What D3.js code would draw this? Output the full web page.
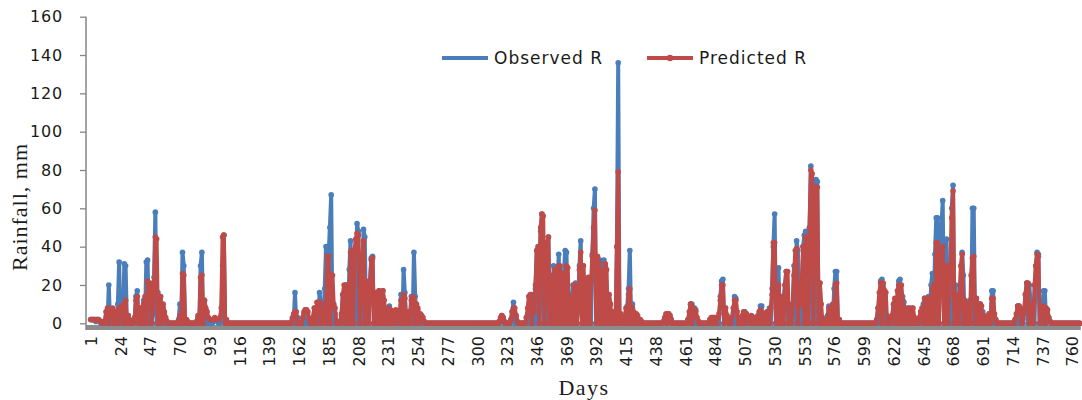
<!DOCTYPE html>
<html>
<head>
<meta charset="utf-8">
<script src="https://cdn.jsdelivr.net/npm/d3@7"></script>
<style>
  body { margin: 0; background: #fff; }
  svg { display: block; }
</style>
</head>
<body>
<svg id="chart"></svg>
<script>
// Daily rainfall, stored as runs: [first day, [values for consecutive days]]
// Days not listed are zero.
const totalDays = 766;

const observedRuns = [
    [1, [2, 2, 2, 2, 1, 2, 2, 1, 0]],
    [10, [0, 0, 1, 6, 0, 20, 0, 4, 7, 0]],
    [20, [3, 0, 10, 32, 0, 9, 0, 31, 30, 0]],
    [30, [4, 0, 0, 0, 0, 2, 14, 17, 0, 8]],
    [40, [0, 5, 12, 0, 32, 33, 0, 18, 0, 5]],
    [50, [24, 58, 0, 16, 0, 14, 0, 8, 0, 2]],
    [69, [2]],
    [70, [10, 0, 37, 30, 0, 2]],
    [84, [3, 0, 30, 37, 0, 12]],
    [90, [7, 0, 1, 0, 0, 0, 1, 2, 2, 1]],
    [102, [2, 30, 46, 0]],
    [157, [3, 0, 16]],
    [160, [0, 3, 0, 0, 0, 0, 5, 7, 0, 3]],
    [173, [3, 8, 0, 6, 0, 16, 10]],
    [180, [0, 2, 18, 40, 0, 36, 50, 67, 0, 10]],
    [190, [5, 0, 0, 0, 0, 4, 15, 0, 20, 18]],
    [200, [0, 28, 43, 0, 22, 36, 0, 52, 48, 0]],
    [210, [18, 0, 49, 45, 0, 15, 0, 22, 34, 35]],
    [220, [0, 14, 0, 14, 17, 0, 12, 17, 0, 8]],
    [230, [0, 6, 9, 0, 4, 0, 5, 6, 0, 3]],
    [240, [0, 15, 0, 28, 16, 0, 6, 0, 5, 14]],
    [250, [0, 37, 14, 0, 7, 0, 3, 0, 1]],
    [318, [2, 4]],
    [320, [3, 0, 0, 0, 0, 0, 2, 6, 11, 0]],
    [330, [4, 0, 0, 0, 0, 0, 0, 0, 3, 0]],
    [340, [14, 0, 15, 8, 0, 18, 38, 0, 32, 48]],
    [350, [57, 0, 28, 0, 40, 45, 0, 22, 0, 30]],
    [360, [0, 10, 20, 36, 0, 12, 0, 26, 38, 37]],
    [370, [0, 12, 0, 14, 20, 0, 21, 0, 8, 30]],
    [380, [43, 0, 30, 0, 10, 22, 0, 15, 0, 36]],
    [390, [60, 70, 0, 32, 0, 33, 28, 0, 33, 30]],
    [400, [0, 15, 0, 4, 0, 1, 3, 0, 40, 136]],
    [410, [0, 4, 1, 0, 3, 0, 9, 18, 38, 0]],
    [420, [10, 0, 5, 0, 3, 0, 1]],
    [445, [2, 4, 0, 5, 4, 2]],
    [463, [2, 0, 10, 10, 0, 8, 7, 0, 1]],
    [480, [2, 0, 3, 3, 0, 2, 3, 0, 14, 22]],
    [490, [23, 0, 8, 4, 0, 0, 0, 3, 0, 14]],
    [500, [13, 0, 3, 0, 0, 3, 0, 6, 5, 0]],
    [510, [2, 3, 0, 3, 3, 0, 3, 4, 0, 9]],
    [520, [9, 0, 3, 5, 0, 6, 8, 0, 18, 40]],
    [530, [57, 0, 12, 29, 0, 10, 0, 14, 20, 27]],
    [540, [0, 10, 0, 3, 10, 30, 0, 43, 38, 0]],
    [550, [10, 0, 40, 46, 48, 0, 8, 50, 82, 0]],
    [560, [62, 0, 75, 74, 0, 21, 0, 3, 0, 0]],
    [570, [0, 4, 9, 0, 8, 0, 18, 27, 27, 0]],
    [580, [2]],
    [609, [2]],
    [610, [8, 0, 22, 23, 0, 17, 0, 4, 2, 0]],
    [620, [0, 4, 10, 0, 12, 0, 22, 23, 0, 14]],
    [630, [11, 0, 5, 8, 0, 6, 8, 0, 3, 0]],
    [640, [0, 0, 2, 6, 0, 10, 13, 0, 10, 14]],
    [650, [0, 20, 26, 0, 36, 55, 55, 0, 30, 50]],
    [660, [64, 0, 38, 44, 0, 15, 0, 60, 72, 0]],
    [670, [20, 0, 10, 14, 0, 37, 25, 0, 8, 0]],
    [680, [10, 12, 0, 60, 60, 0, 13, 0, 9, 10]],
    [690, [0, 6, 0, 3, 2, 0, 5, 0, 17, 17]],
    [700, [0, 2]],
    [716, [2, 0, 9, 9]],
    [720, [0, 3, 0, 6, 15, 21, 0, 20, 10, 0]],
    [730, [8, 0, 30, 37, 36, 0, 8, 0, 17, 17]],
    [740, [0, 7, 3, 1]]
];

const predictedRuns = [
    [1, [2, 2, 2, 2, 2, 2, 2, 1, 1]],
    [10, [0, 0, 1, 6, 8, 0, 6, 4, 8, 0]],
    [20, [5, 6, 0, 8, 6, 9, 0, 10, 12, 0]],
    [30, [4, 2, 0, 0, 0, 3, 12, 14, 0, 8]],
    [40, [4, 0, 10, 14, 0, 22, 20, 21, 0, 8]],
    [50, [18, 45, 44, 0, 12, 14, 0, 10, 6, 3]],
    [60, [1, 0, 0, 0, 0, 0, 0, 0, 0, 1]],
    [70, [4, 0, 26, 25, 0, 2, 1]],
    [83, [1, 4, 0, 24, 25, 0, 12]],
    [90, [8, 6, 3, 2, 2, 2, 2, 3, 2, 2]],
    [100, [2, 3, 8, 45, 46, 0, 2]],
    [157, [2, 5, 6]],
    [160, [6, 0, 0, 0, 0, 3, 6, 7, 7, 6]],
    [170, [2, 0, 0, 3, 8, 0, 11, 8, 11, 0]],
    [180, [3, 2, 10, 0, 35, 35, 0, 25, 25, 9]],
    [190, [8, 0, 1, 0, 0, 5, 15, 20, 0, 20]],
    [200, [15, 0, 37, 38, 0, 38, 44, 47, 46, 0]],
    [210, [20, 34, 43, 0, 22, 14, 0, 20, 33, 34]],
    [220, [0, 16, 10, 0, 17, 16, 0, 17, 12, 0]],
    [230, [6, 8, 0, 7, 5, 0, 6, 7, 0, 4]],
    [240, [5, 12, 0, 15, 13, 0, 6, 5, 0, 12]],
    [250, [14, 13, 0, 10, 8, 0, 5, 4, 3, 1]],
    [317, [1, 3, 4]],
    [320, [3, 1, 0, 0, 0, 0, 2, 6, 8, 8]],
    [330, [4, 1, 0, 0, 0, 0, 0, 0, 3, 8]],
    [340, [14, 15, 0, 10, 6, 20, 38, 40, 0, 50]],
    [350, [57, 56, 0, 22, 42, 45, 0, 25, 14, 0]],
    [360, [28, 12, 0, 30, 30, 0, 8, 26, 0, 30]],
    [370, [29, 0, 6, 14, 0, 20, 18, 0, 8, 28]],
    [380, [37, 0, 30, 18, 0, 22, 24, 0, 22, 35]],
    [390, [50, 59, 0, 35, 32, 0, 28, 26, 0, 31]],
    [400, [28, 0, 15, 10, 0, 6, 4, 0, 40, 79]],
    [410, [0, 5, 2, 0, 3, 8, 0, 15, 18, 0]],
    [420, [8, 6, 0, 5, 4, 0, 2, 1]],
    [444, [1, 3, 5, 0, 5, 4, 2]],
    [463, [2, 6, 10, 0, 8, 7, 6, 3, 1]],
    [480, [2, 3, 0, 3, 3, 0, 3, 5, 12, 20]],
    [490, [20, 0, 8, 4, 2, 0, 0, 3, 8, 12]],
    [500, [12, 6, 0, 0, 0, 4, 6, 0, 5, 3]],
    [510, [3, 0, 4, 3, 0, 3, 3, 0, 6, 7]],
    [520, [0, 5, 3, 0, 6, 6, 0, 8, 15, 42]],
    [530, [42, 0, 12, 20, 0, 14, 10, 0, 20, 27]],
    [540, [27, 0, 5, 0, 10, 25, 38, 39, 0, 18]],
    [550, [10, 22, 40, 0, 45, 20, 0, 50, 80, 78]],
    [560, [0, 66, 71, 71, 0, 21, 10, 0, 1, 0]],
    [570, [0, 3, 8, 0, 8, 10, 0, 20, 21, 0]],
    [580, [2]],
    [609, [2]],
    [610, [8, 16, 21, 0, 21, 17, 16, 0, 3, 0]],
    [620, [0, 4, 10, 13, 0, 17, 20, 0, 20, 12]],
    [630, [0, 8, 6, 0, 8, 7, 0, 8, 3, 0]],
    [640, [0, 0, 3, 6, 8, 0, 13, 12, 0, 13]],
    [650, [13, 0, 18, 20, 0, 42, 42, 0, 25, 35]],
    [660, [40, 0, 28, 30, 0, 15, 30, 55, 69, 0]],
    [670, [15, 12, 0, 14, 30, 36, 0, 12, 8, 0]],
    [680, [10, 0, 25, 34, 35, 0, 13, 10, 0, 10]],
    [690, [9, 0, 4, 3, 0, 3, 5, 0, 13, 13]],
    [700, [5, 2]],
    [716, [2, 5, 9, 9]],
    [720, [8, 0, 2, 6, 15, 21, 21, 0, 10, 6]],
    [730, [0, 20, 30, 36, 35, 0, 8, 8, 9, 0]],
    [740, [8, 7, 3, 1]]
];

const yTicks = [0, 20, 40, 60, 80, 100, 120, 140, 160];
const xTickDays = [1, 24, 47, 70, 93, 116, 139, 162, 185, 208, 231, 254, 277, 300, 323, 346, 369, 392,
    415, 438, 461, 484, 507, 530, 553, 576, 599, 622, 645, 668, 691, 714, 737, 760];

const seriesNames = ["Observed R", "Predicted R"];
const colors = { "Observed R": "#4a7ebb", "Predicted R": "#be4b48" };

// expand runs into a full daily series
function toSeries(runs) {
    const values = new Array(totalDays).fill(0);
    runs.forEach(([start, vals]) => vals.forEach((v, i) => { values[start - 1 + i] = v; }));
    return values.map((v, i) => ({ day: i + 1, value: v }));
}

const series = [
    { name: "Observed R", values: toSeries(observedRuns) },
    { name: "Predicted R", values: toSeries(predictedRuns) }
];

const W = 1082, H = 400;
const svg = d3.select("#chart").attr("width", W).attr("height", H);
svg.append("rect").attr("width", W).attr("height", H).attr("fill", "#fff");

const plotLeft = 86;
const x = d3.scaleLinear().domain([1, 760]).range([90.7, 1072]);
const y = d3.scaleLinear().domain([0, 160]).range([323.3, 16.7]);

// grey floor band under the zero line
svg.append("rect")
    .attr("x", plotLeft)
    .attr("y", 325)
    .attr("width", x(totalDays) - plotLeft + 1)
    .attr("height", 5)
    .attr("fill", "#8c8c8c");

// y axis
const yAxis = svg.append("g")
    .attr("transform", `translate(${plotLeft},0)`)
    .call(d3.axisLeft(y).tickValues(yTicks).tickSize(6).tickSizeOuter(0).tickPadding(17));
yAxis.select(".domain").remove();
yAxis.selectAll(".tick line").attr("stroke", "#868686").attr("stroke-width", 1.3);
yAxis.selectAll(".tick text")
    .attr("font-family", "DejaVu Sans, sans-serif")
    .attr("font-size", 16)
    .attr("letter-spacing", 0.8)
    .attr("fill", "#1a1a1a");
svg.append("line")
    .attr("x1", plotLeft).attr("x2", plotLeft)
    .attr("y1", y(160)).attr("y2", 330)
    .attr("stroke", "#868686").attr("stroke-width", 1.5);

// x tick labels, rotated
const xAxis = svg.append("g")
    .attr("transform", "translate(0,336)")
    .call(d3.axisBottom(x).tickValues(xTickDays).tickFormat(d3.format("d")).tickSize(0));
xAxis.select(".domain").remove();
xAxis.selectAll(".tick text")
    .attr("font-family", "DejaVu Sans, sans-serif")
    .attr("font-size", 16)
    .attr("fill", "#1a1a1a")
    .attr("text-anchor", "end")
    .attr("transform", "rotate(-90)")
    .attr("x", 0)
    .attr("y", 0)
    .attr("dy", "0.36em");

// lines and markers
const line = d3.line().x(d => x(d.day)).y(d => y(d.value));

series.forEach(s => {
    const g = svg.append("g");
    g.append("path")
        .datum(s.values)
        .attr("d", line)
        .attr("fill", "none")
        .attr("stroke", colors[s.name])
        .attr("stroke-width", 4)
        .attr("stroke-linejoin", "round");
    g.selectAll("circle")
        .data(s.values)
        .join("circle")
        .attr("cx", d => x(d.day))
        .attr("cy", d => y(d.value))
        .attr("r", 2.8)
        .attr("fill", colors[s.name]);
});

// legend
const legendPos = { "Observed R": 442, "Predicted R": 647 };
seriesNames.forEach(name => {
    const lx = legendPos[name];
    const lg = svg.append("g");
    lg.append("line")
        .attr("x1", lx).attr("x2", lx + 46)
        .attr("y1", 58).attr("y2", 58)
        .attr("stroke", colors[name]).attr("stroke-width", 4);
    if (name === "Predicted R") {
        lg.append("circle").attr("cx", lx + 23).attr("cy", 58).attr("r", 3.2).attr("fill", colors[name]);
    }
    lg.append("text")
        .attr("x", lx + 52)
        .attr("y", 64)
        .attr("font-family", "DejaVu Sans, sans-serif")
        .attr("font-size", 17)
        .attr("letter-spacing", 1)
        .attr("fill", "#1a1a1a")
        .text(name);
});

// axis titles
svg.append("text")
    .attr("transform", "translate(27,207) rotate(-90)")
    .attr("text-anchor", "middle")
    .attr("font-family", "Liberation Serif, serif")
    .attr("font-size", 22)
    .attr("letter-spacing", 1)
    .attr("fill", "#1a1a1a")
    .text("Rainfall, mm");

svg.append("text")
    .attr("x", 584)
    .attr("y", 395)
    .attr("text-anchor", "middle")
    .attr("font-family", "Liberation Serif, serif")
    .attr("font-size", 22)
    .attr("letter-spacing", 1.5)
    .attr("fill", "#1a1a1a")
    .text("Days");
</script>
</body>
</html>
